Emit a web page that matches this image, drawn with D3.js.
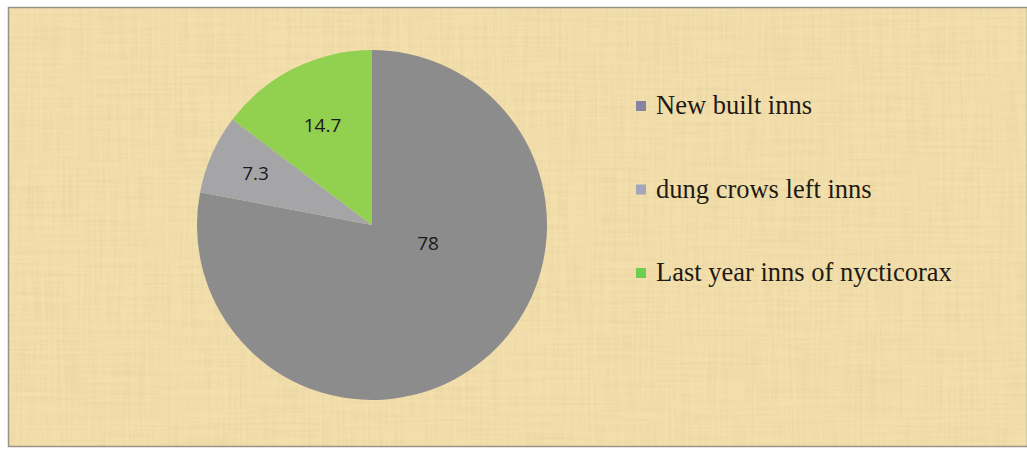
<!DOCTYPE html>
<html>
<head>
<meta charset="utf-8">
<script src="https://cdn.jsdelivr.net/npm/d3@7"></script>
<style>
  html, body { margin: 0; padding: 0; background: #fff; }
  svg { display: block; }
  .slice-label { font-family: "Open Sans", "Liberation Sans", sans-serif; font-size: 19px; fill: #1a1a1a; }
  .legend text { font-family: "Liberation Serif", "DejaVu Serif", serif; font-size: 26.5px; fill: #1e1a14; }
</style>
</head>
<body>
<svg id="chart" width="1027" height="450"></svg>
<script>
// chart data
var categories = ["New built inns", "dung crows left inns", "Last year inns of nycticorax"];
var values = [78, 7.3, 14.7];
var sliceColors = ["#8c8c8c", "#a5a5a8", "#92d050"];
var legendColors = ["#8585a0", "#a2a6b8", "#6ccf50"];

var svg = d3.select("#chart");
var width = 1027, height = 450;

// papyrus-ish background
var defs = svg.append("defs");
var filter = defs.append("filter").attr("id", "paper")
    .attr("x", 0).attr("y", 0).attr("width", "100%").attr("height", "100%");
filter.append("feTurbulence")
    .attr("type", "fractalNoise")
    .attr("baseFrequency", "0.35 0.012")
    .attr("numOctaves", 2)
    .attr("seed", 3)
    .attr("result", "v");
filter.append("feTurbulence")
    .attr("type", "fractalNoise")
    .attr("baseFrequency", "0.012 0.35")
    .attr("numOctaves", 2)
    .attr("seed", 7)
    .attr("result", "h");
filter.append("feComposite").attr("in", "v").attr("in2", "h")
    .attr("operator", "arithmetic").attr("k2", 0.5).attr("k3", 0.5).attr("result", "n");
filter.append("feColorMatrix").attr("in", "n").attr("type", "matrix")
    .attr("values", "0 0 0 0 0.55  0 0 0 0 0.42  0 0 0 0 0.2  -1.6 0 0 0 0.95");

svg.append("rect")
    .attr("x", 8).attr("y", 7)
    .attr("width", width - 8).attr("height", 440)
    .attr("fill", "#f3dfac");
svg.append("rect")
    .attr("x", 8).attr("y", 7)
    .attr("width", width - 8).attr("height", 440)
    .attr("fill", "#000")
    .attr("opacity", 0.3)
    .attr("filter", "url(#paper)");
svg.append("rect")
    .attr("x", 8.5).attr("y", 7.5)
    .attr("width", width - 8).attr("height", 439)
    .attr("fill", "none")
    .attr("stroke", "#9a9488")
    .attr("stroke-width", 1.5);

// pie
var cx = 372, cy = 225, radius = 175;
var pie = d3.pie().sort(null).value(function(d) { return d; });
var arcs = pie(values);
var arc = d3.arc().innerRadius(0).outerRadius(radius);

var g = svg.append("g").attr("transform", "translate(" + cx + "," + cy + ")");

g.selectAll("path")
    .data(arcs)
  .enter().append("path")
    .attr("d", arc)
    .attr("fill", function(d, i) { return sliceColors[i]; });

// rough imitation of Excel's "best fit" label placement
function labelPos(d) {
  var span = d.endAngle - d.startAngle;
  var a, r;
  if (span > Math.PI) {
    a = d.startAngle + span * 0.385;
    r = radius * 0.337;
  } else {
    a = (d.startAngle + d.endAngle) / 2;
    r = radius * (0.82 - span * 0.2);
  }
  return [Math.sin(a) * r, -Math.cos(a) * r];
}

g.selectAll(".slice-label")
    .data(arcs)
  .enter().append("text")
    .attr("class", "slice-label")
    .attr("text-anchor", "middle")
    .attr("dy", "0.35em")
    .attr("x", function(d) { return labelPos(d)[0]; })
    .attr("y", function(d) { return labelPos(d)[1]; })
    .text(function(d) { return d.data; });

// legend
var legendY = d3.scalePoint().domain(categories).range([106, 273]);

var legend = svg.append("g").attr("class", "legend");
var item = legend.selectAll("g")
    .data(categories)
  .enter().append("g")
    .attr("transform", function(d) { return "translate(636," + legendY(d) + ")"; });

item.append("rect")
    .attr("x", 0).attr("y", -5)
    .attr("width", 10).attr("height", 10)
    .attr("fill", function(d, i) { return legendColors[i]; });

item.append("text")
    .attr("x", 20)
    .attr("y", 8)
    .text(function(d) { return d; });
</script>
</body>
</html>
